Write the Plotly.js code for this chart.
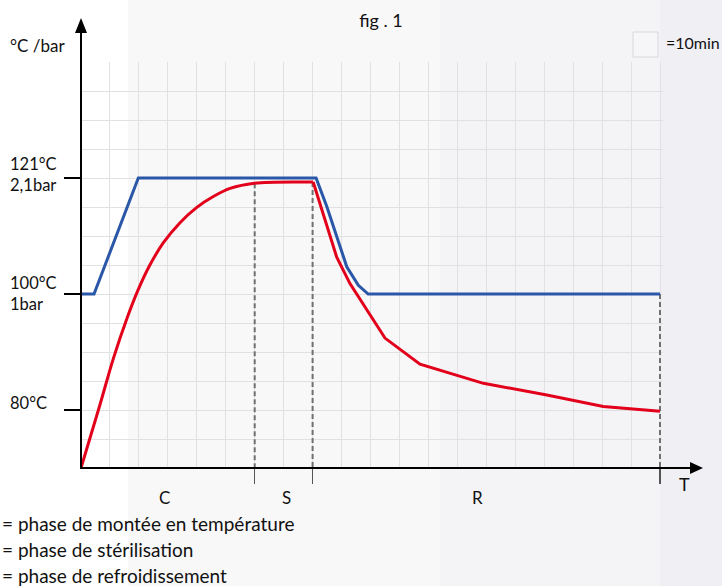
<!DOCTYPE html>
<html>
<head>
<meta charset="utf-8">
<script src="https://cdn.plot.ly/plotly-3.0.1.min.js"></script>
<style>html,body{margin:0;padding:0;background:#fff;}#chart{width:722px;height:586px;}</style>
</head>
<body>
<div id="chart"></div>
<script>
// ---- data (time in minutes, temperature in °C) ----
var pressureTime = [0, 4.5, 19.8, 81.2, 84.9, 91.8, 95.8, 99.2, 200];
var pressureValue = [100, 100, 120, 120, 115.1, 104.7, 101.5, 100, 100];

var tempTime = [0, 6.6, 11.2, 15.8, 19.8, 23.8, 28.4, 34.2, 39.9, 45.7, 51.5, 59.9, 80.2, 83.7, 88.3, 92.9, 98.7, 105.0, 117.1, 139.0, 160.9, 180.4, 200];
var tempValue = [70, 81.0, 88.9, 95.7, 100.8, 105.0, 108.8, 112.3, 114.9, 116.8, 118.2, 119.1, 119.3, 113.9, 106.4, 101.8, 97.2, 92.4, 87.9, 84.6, 82.6, 80.6, 79.8];
var heatingEndIndex = 12; // smooth rise + plateau, then cooling

var phaseBoundaries = [60, 80, 200];
var boundaryTops = [119.1, 119.3, 100];
var phaseLabels = ['C', 'S', 'R'];
var phaseLabelX = [29, 71, 137];
var phaseDescriptions = ['= phase de montée en température', '= phase de stérilisation', '= phase de refroidissement'];

var yTickVals = [120, 100, 80];
var yTickText = ['121°C<br>2,1bar', '100°C<br>1bar', '80°C'];

var titleText = 'fig . 1';
var yAxisLabel = '°C /bar';
var xAxisLabel = 'T';
var scaleLegend = '=10min';

// ---- geometry helpers (grid 81..660 px, 62..468 px) ----
var L = 81, R = 660, T = 62, B = 468, W = 722, H = 586;
var PR = 663; // plot area right edge (a little past the last grid line so the end boundary is not clipped)
var xMax = 200 * (PR - L) / (R - L);
function px(x) { return (x - L) / (PR - L); }
function py(y) { return (B - y) / (B - T); }

var FONT = 'Lato, "Noto Sans", sans-serif';
var textColor = '#111111';

var traces = [];
for (var i = 0; i < phaseBoundaries.length; i++) {
  traces.push({
    x: [phaseBoundaries[i], phaseBoundaries[i]],
    y: [boundaryTops[i], 70],
    mode: 'lines', hoverinfo: 'skip', showlegend: false,
    line: {color: '#707070', width: 2, dash: '5px,3px'}
  });
}
traces.push({
  x: pressureTime, y: pressureValue, mode: 'lines', showlegend: false,
  line: {color: '#2a57a7', width: 3}
});
traces.push({
  x: tempTime.slice(0, heatingEndIndex + 1), y: tempValue.slice(0, heatingEndIndex + 1),
  mode: 'lines', showlegend: false,
  line: {color: '#e2001a', width: 3, shape: 'spline', smoothing: 1}
});
traces.push({
  x: tempTime.slice(heatingEndIndex), y: tempValue.slice(heatingEndIndex),
  mode: 'lines', showlegend: false,
  line: {color: '#e2001a', width: 3}
});

var shapes = [];
var bands = [[0, 128, '#ffffff'], [128, 440, '#f8f8f9'], [440, 660, '#f4f4f7'], [660, 722, '#efeff4']];
bands.forEach(function (b) {
  shapes.push({type: 'rect', xref: 'paper', yref: 'paper', layer: 'below',
    x0: px(b[0]), x1: px(b[1]), y0: py(H), y1: py(0),
    fillcolor: b[2], line: {width: 0}});
});
shapes.push({type: 'line', xref: 'paper', yref: 'paper', x0: 0, x1: 0, y0: py(B + 1), y1: py(30), line: {color: '#000', width: 2}});
shapes.push({type: 'path', xref: 'paper', yref: 'paper',
  path: 'M ' + px(L - 6) + ' ' + py(33) + ' L ' + px(L + 6) + ' ' + py(33) + ' L ' + px(L) + ' ' + py(18) + ' Z',
  fillcolor: '#000', line: {width: 0}});
shapes.push({type: 'line', xref: 'paper', yref: 'paper', x0: px(L - 1), x1: px(692), y0: 0, y1: 0, line: {color: '#000', width: 2}});
shapes.push({type: 'path', xref: 'paper', yref: 'paper',
  path: 'M ' + px(690) + ' ' + py(B - 6) + ' L ' + px(690) + ' ' + py(B + 6) + ' L ' + px(703) + ' ' + py(B) + ' Z',
  fillcolor: '#000', line: {width: 0}});
shapes.push({type: 'rect', xref: 'paper', yref: 'paper', x0: px(633), x1: px(658), y0: py(57), y1: py(32),
  fillcolor: '#f6f6f8', line: {color: '#d8d8da', width: 1}});

var annotations = [];
function addText(text, x, y, xanchor, size) {
  annotations.push({text: text, xref: 'paper', yref: 'paper', x: x, y: y, xanchor: xanchor, yanchor: 'middle',
    showarrow: false, font: {family: FONT, size: size || 17, color: textColor}, align: 'left'});
}
addText(yAxisLabel, px(8), py(45.5), 'left');
var yShift = [3.5, 1, 7];
for (var k = 0; k < yTickVals.length; k++) {
  annotations.push({text: yTickText[k], xref: 'paper', yref: 'y', x: px(8), y: yTickVals[k], yshift: yShift[k],
    xanchor: 'left', yanchor: 'middle', align: 'left', showarrow: false,
    font: {family: FONT, size: 16.5, color: textColor}});
}
for (var p = 0; p < phaseLabels.length; p++) {
  annotations.push({text: phaseLabels[p], xref: 'x', yref: 'paper', x: phaseLabelX[p], y: py(497),
    xanchor: 'center', yanchor: 'middle', showarrow: false, font: {family: FONT, size: 17, color: textColor}});
  addText(phaseDescriptions[p], px(0), py(523 + 26 * p), 'left', 19);
}
addText(xAxisLabel, px(684), py(484), 'center', 18);
addText(scaleLegend, px(664), py(43), 'left', 16);

var layout = {
  width: W, height: H,
  margin: {l: L, r: W - PR, t: T, b: H - B, pad: 0},
  paper_bgcolor: '#ffffff', plot_bgcolor: 'rgba(0,0,0,0)',
  title: {text: titleText, x: 381 / W, xref: 'container', xanchor: 'center', y: 1 - 21 / H, yref: 'container', yanchor: 'middle',
    font: {family: FONT, size: 18, color: textColor}},
  showlegend: false,
  xaxis: {range: [0, xMax], tickvals: phaseBoundaries, ticks: 'outside', ticklen: 15, tickwidth: 1.5, tickcolor: '#555',
    showticklabels: false, showgrid: true, gridcolor: '#e1e1e4', gridwidth: 1, zeroline: false, showline: false,
    minor: {dtick: 10, tick0: 0, showgrid: true, gridcolor: '#e1e1e4', gridwidth: 1, ticks: ''}, fixedrange: true},
  yaxis: {range: [70, 140], tickvals: yTickVals, ticks: 'outside', ticklen: 16, tickwidth: 2, tickcolor: '#000',
    showticklabels: false, showgrid: true, gridcolor: '#e1e1e4', gridwidth: 1, zeroline: false, showline: false,
    minor: {dtick: 5, tick0: 70, showgrid: true, gridcolor: '#e1e1e4', gridwidth: 1, ticks: ''}, fixedrange: true},
  shapes: shapes,
  annotations: annotations
};

Plotly.newPlot('chart', traces, layout, {displayModeBar: false, staticPlot: true});
</script>
</body>
</html>
